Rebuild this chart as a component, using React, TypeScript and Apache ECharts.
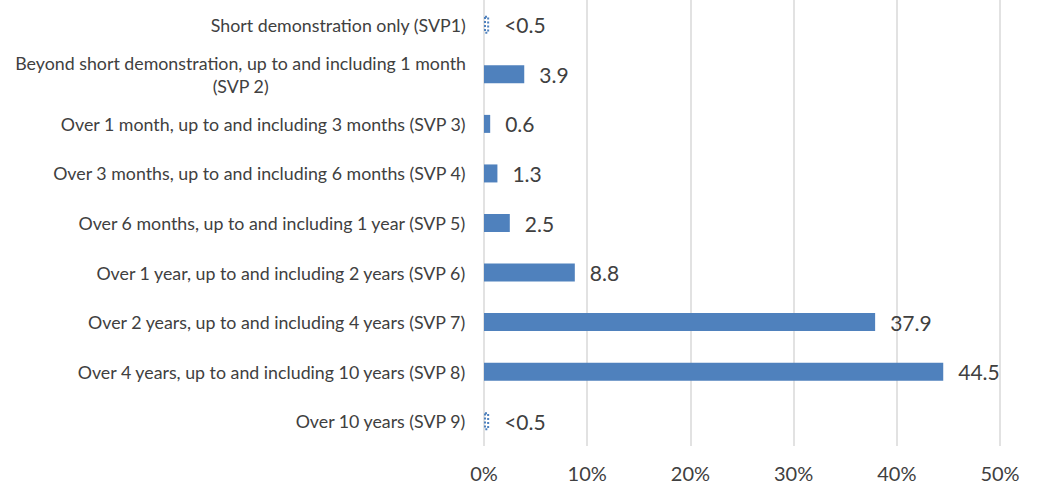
import React, { useEffect, useRef } from "react";
import * as echarts from "echarts";

const categories = [
  "Short demonstration only (SVP1)",
  "Beyond short demonstration, up to and including 1 month\n(SVP 2)",
  "Over 1 month, up to and including 3 months (SVP 3)",
  "Over 3 months, up to and including 6 months (SVP 4)",
  "Over 6 months, up to and including 1 year (SVP 5)",
  "Over 1 year, up to and including 2 years (SVP 6)",
  "Over 2 years, up to and including 4 years (SVP 7)",
  "Over 4 years, up to and including 10 years (SVP 8)",
  "Over 10 years (SVP 9)",
];
const values = [0.5, 3.9, 0.6, 1.3, 2.5, 8.8, 37.9, 44.5, 0.5];
const valueLabels = ["<0.5", "3.9", "0.6", "1.3", "2.5", "8.8", "37.9", "44.5", "<0.5"];
const belowHalf = [true, false, false, false, false, false, false, false, true];

const FONT = "Lato, 'Open Sans', sans-serif";
const BLUE = "#4f81bd";

export default function App() {
  const ref = useRef<HTMLDivElement>(null);
  useEffect(() => {
    document.body.style.margin = "0";
    const chart = echarts.init(ref.current!, null, { renderer: "svg" });
    chart.setOption({
      animation: false,
      grid: { left: 484, right: 38, top: 0, bottom: 41, containLabel: false },
      xAxis: {
        type: "value",
        min: 0,
        max: 50,
        interval: 10,
        axisLabel: {
          formatter: "{value}%",
          fontSize: 20,
          lineHeight: 22,
          color: "#404040",
          fontFamily: FONT,
          margin: 16,
        },
        axisLine: { show: false },
        axisTick: { show: false },
        splitLine: { show: true, lineStyle: { color: "#d9d9d9", width: 1.5 } },
      },
      yAxis: {
        type: "category",
        inverse: true,
        data: categories,
        axisLine: { show: false },
        axisTick: { show: false },
        axisLabel: {
          margin: 18,
          fontFamily: FONT,
          formatter: (v: string) =>
            v.split("\n").map((s) => `{c|${s}}`).join("\n"),
          rich: {
            c: {
              fontSize: 17.8,
              color: "#404040",
              fontFamily: FONT,
              align: "center",
              lineHeight: 23,
            },
          },
        },
      },
      series: [
        {
          type: "bar",
          barWidth: 18,
          data: values.map((v, i) => ({
            value: v,
            itemStyle: belowHalf[i]
              ? { color: "#ffffff", borderColor: BLUE, borderWidth: 2, borderType: [2, 2] }
              : { color: BLUE },
          })),
          label: {
            show: true,
            position: "right",
            distance: 15,
            fontSize: 21,
            color: "#404040",
            fontFamily: FONT,
            formatter: (p: any) => valueLabels[p.dataIndex],
          },
        },
      ],
    });
    return () => chart.dispose();
  }, []);
  return <div ref={ref} style={{ width: 1038, height: 487 }} />;
}
